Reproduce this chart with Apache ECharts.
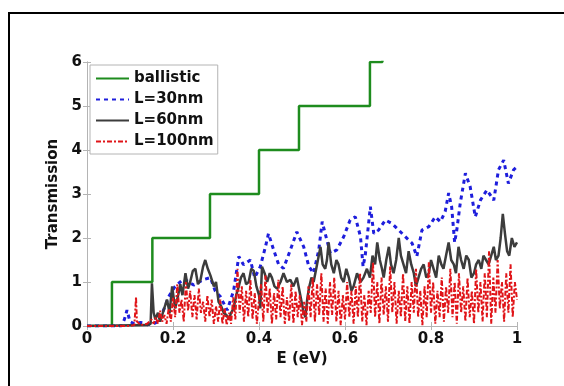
<!DOCTYPE html>
<html>
<head>
<meta charset="utf-8">
<script src="https://cdn.jsdelivr.net/npm/echarts@6/dist/echarts.min.js"></script>
<style>
  html, body { margin: 0; padding: 0; background: #fff; }
  #chart { width: 564px; height: 386px; }
</style>
</head>
<body>
<div id="chart"></div>
<script>
// ballistic transmission: integer steps at these energies
const ballisticEdges = [0, 0.058, 0.152, 0.286, 0.4, 0.493, 0.658, 0.687, 1.0]
const ballisticLevels = [0, 1, 2, 3, 4, 5, 6, 7, 7]

// L = 30nm  [E, T]
const l30 = [
	[0, 0], [0.08, 0], [0.087, 0.15], [0.093, 0.36], [0.1, 0.1], [0.11, 0.05], [0.125, 0.08], [0.14, 0.03],
	[0.155, 0.05], [0.165, 0.1], [0.178, 0.36], [0.19, 0.67], [0.205, 0.9], [0.225, 1.07], [0.248, 0.93],
	[0.27, 1.05], [0.287, 1.1], [0.298, 0.8], [0.31, 0.67], [0.326, 0.36], [0.341, 0.8], [0.353, 1.58],
	[0.364, 1.39], [0.38, 1.5], [0.39, 1.1], [0.403, 1.35], [0.415, 1.8], [0.422, 2.1], [0.434, 1.73],
	[0.446, 1.39], [0.457, 1.31], [0.473, 1.73], [0.488, 2.14], [0.504, 1.8], [0.516, 1.35], [0.527, 1.2],
	[0.539, 1.73], [0.547, 2.37], [0.554, 2.1], [0.566, 1.65], [0.581, 1.73], [0.597, 2.03], [0.612, 2.41],
	[0.624, 2.48], [0.636, 2.03], [0.642, 1.35], [0.647, 1.6], [0.659, 2.71], [0.667, 2.1], [0.678, 2.18],
	[0.694, 2.41], [0.709, 2.33], [0.725, 2.18], [0.74, 2.03], [0.756, 1.88], [0.767, 1.58], [0.779, 2.18],
	[0.795, 2.26], [0.81, 2.48], [0.822, 2.37], [0.833, 2.6], [0.841, 3.02], [0.848, 2.71], [0.855, 1.9],
	[0.86, 2.18], [0.868, 2.79], [0.88, 3.47], [0.891, 3.17], [0.903, 2.48], [0.915, 2.86], [0.93, 3.09],
	[0.946, 2.86], [0.957, 3.55], [0.969, 3.77], [0.98, 3.24], [0.992, 3.55], [1.0, 3.62]
]

// L = 60nm
const l60 = [
	[0, 0], [0.14, 0.02], [0.148, 0.05], [0.151, 0.97], [0.155, 0.3], [0.159, 0.15], [0.165, 0.3], [0.17, 0.1],
	[0.178, 0.35], [0.186, 0.6], [0.192, 0.3], [0.198, 0.9], [0.205, 0.4], [0.212, 0.7], [0.217, 0.95],
	[0.222, 0.7], [0.229, 1.2], [0.235, 0.85], [0.24, 1.0], [0.246, 1.25], [0.252, 1.3], [0.258, 0.95],
	[0.264, 1.05], [0.27, 1.35], [0.275, 1.5], [0.281, 1.3], [0.287, 1.15], [0.295, 0.9], [0.3, 1.0],
	[0.306, 0.55], [0.312, 0.45], [0.318, 0.3], [0.324, 0.25], [0.33, 0.15], [0.335, 0.3], [0.341, 0.4],
	[0.347, 0.7], [0.353, 0.9], [0.358, 1.1], [0.364, 1.2], [0.37, 0.95], [0.376, 1.0], [0.382, 1.3],
	[0.388, 1.25], [0.394, 0.9], [0.4, 0.7], [0.403, 0.4], [0.407, 1.35], [0.413, 1.2], [0.419, 1.0],
	[0.425, 1.2], [0.43, 1.1], [0.436, 0.9], [0.442, 0.85], [0.45, 1.0], [0.457, 1.2], [0.465, 1.0],
	[0.473, 1.05], [0.48, 0.9], [0.488, 1.1], [0.494, 0.8], [0.5, 0.5], [0.504, 0.3], [0.508, 0.2],
	[0.512, 0.6], [0.516, 0.85], [0.522, 1.1], [0.527, 1.0], [0.535, 1.4], [0.543, 1.8], [0.548, 1.4],
	[0.554, 1.3], [0.558, 1.5], [0.562, 1.9], [0.568, 1.4], [0.574, 1.2], [0.58, 1.5], [0.585, 1.4],
	[0.591, 1.1], [0.597, 1.0], [0.603, 1.3], [0.609, 1.1], [0.615, 0.8], [0.62, 0.9], [0.628, 1.2],
	[0.636, 1.0], [0.643, 1.1], [0.651, 1.3], [0.658, 1.1], [0.664, 1.6], [0.67, 1.4], [0.675, 1.9],
	[0.681, 1.5], [0.686, 1.3], [0.69, 1.1], [0.696, 1.5], [0.702, 1.8], [0.707, 1.4], [0.713, 1.2],
	[0.719, 1.5], [0.725, 2.0], [0.73, 1.6], [0.736, 1.4], [0.742, 1.2], [0.748, 1.7], [0.754, 1.4],
	[0.76, 1.2], [0.765, 0.9], [0.771, 1.1], [0.777, 1.3], [0.783, 1.4], [0.789, 1.1], [0.795, 1.2],
	[0.8, 1.5], [0.806, 1.3], [0.812, 1.1], [0.818, 1.6], [0.824, 1.4], [0.829, 1.3], [0.835, 1.6],
	[0.841, 1.9], [0.847, 1.5], [0.853, 1.4], [0.858, 1.2], [0.864, 1.8], [0.87, 1.5], [0.876, 1.3],
	[0.882, 1.6], [0.888, 1.5], [0.894, 1.1], [0.9, 1.2], [0.905, 1.4], [0.911, 1.5], [0.917, 1.3],
	[0.922, 1.6], [0.928, 1.5], [0.934, 1.4], [0.94, 1.6], [0.946, 1.8], [0.951, 1.5], [0.957, 1.6],
	[0.962, 2.0], [0.967, 2.55], [0.972, 2.1], [0.977, 1.7], [0.982, 1.6], [0.988, 2.0], [0.994, 1.8],
	[1.0, 1.9]
]

// L = 100nm
const l100 = [
	[0, 0], [0.1, 0], [0.11, 0.02], [0.112, 0.3], [0.114, 0.66], [0.116, 0.1], [0.125, 0.02], [0.14, 0.05],
	[0.15, 0.15], [0.155, 0.05], [0.16, 0.2], [0.165, 0.05], [0.17, 0.35], [0.175, 0.1], [0.18, 0.25],
	[0.185, 0.05], [0.19, 0.4], [0.195, 0.1], [0.2, 0.65], [0.205, 0.2], [0.21, 0.95], [0.215, 0.3],
	[0.22, 0.6], [0.225, 0.1], [0.23, 1.0], [0.235, 0.35], [0.24, 0.8], [0.245, 0.2], [0.25, 0.7],
	[0.255, 0.15], [0.26, 0.85], [0.265, 0.3], [0.27, 0.55], [0.275, 0.1], [0.28, 0.7], [0.285, 0.2],
	[0.29, 0.6], [0.295, 0.05], [0.3, 0.45], [0.305, 0.1], [0.31, 0.6], [0.315, 0.05], [0.32, 0.4],
	[0.325, 0.02], [0.33, 0.3], [0.335, 0.05], [0.34, 0.65], [0.345, 0.15], [0.35, 1.3], [0.355, 0.3],
	[0.36, 0.9], [0.365, 0.1], [0.37, 0.8], [0.375, 0.2], [0.38, 1.05], [0.385, 0.15], [0.39, 0.75],
	[0.395, 0.05], [0.4, 0.6], [0.405, 0.95], [0.41, 0.1], [0.415, 1.15], [0.42, 0.3], [0.425, 0.85],
	[0.43, 0.05], [0.435, 0.75], [0.44, 0.15], [0.445, 1.05], [0.45, 0.2], [0.455, 0.9], [0.46, 0.05],
	[0.465, 0.65], [0.47, 0.1], [0.475, 0.95], [0.48, 0.05], [0.485, 0.8], [0.49, 0.2], [0.495, 0.7],
	[0.5, 0.02], [0.505, 0.55], [0.51, 0.1], [0.515, 0.9], [0.52, 0.2], [0.525, 1.1], [0.53, 0.1],
	[0.535, 0.95], [0.54, 0.25], [0.545, 1.2], [0.55, 0.1], [0.555, 0.85], [0.56, 0.05], [0.565, 1.0],
	[0.57, 0.25], [0.575, 1.1], [0.58, 0.1], [0.585, 0.8], [0.59, 0.02], [0.595, 0.7], [0.6, 0.15],
	[0.605, 1.0], [0.61, 0.2], [0.615, 0.8], [0.62, 0.05], [0.625, 0.9], [0.63, 0.2], [0.635, 1.2],
	[0.64, 0.1], [0.645, 0.7], [0.65, 0.02], [0.655, 0.8], [0.66, 0.3], [0.665, 1.45], [0.67, 0.2],
	[0.675, 1.0], [0.68, 0.05], [0.685, 1.1], [0.69, 0.25], [0.695, 0.9], [0.7, 0.1], [0.705, 1.35],
	[0.71, 0.3], [0.715, 1.0], [0.72, 0.05], [0.725, 0.8], [0.73, 0.2], [0.735, 1.2], [0.74, 0.1],
	[0.745, 0.9], [0.75, 0.05], [0.755, 1.0], [0.76, 0.3], [0.765, 1.3], [0.77, 0.2], [0.775, 0.8],
	[0.78, 0.02], [0.785, 0.9], [0.79, 0.2], [0.795, 1.45], [0.8, 0.3], [0.805, 1.0], [0.81, 0.05],
	[0.815, 0.8], [0.82, 0.2], [0.825, 1.1], [0.83, 0.1], [0.835, 0.9], [0.84, 0.3], [0.845, 1.3],
	[0.85, 0.2], [0.855, 1.0], [0.86, 0.05], [0.865, 1.2], [0.87, 0.3], [0.875, 0.9], [0.88, 0.1],
	[0.885, 1.1], [0.89, 0.2], [0.895, 0.8], [0.9, 0.05], [0.905, 1.3], [0.91, 0.3], [0.915, 1.0],
	[0.92, 0.1], [0.925, 1.2], [0.93, 0.2], [0.935, 1.7], [0.94, 0.05], [0.945, 1.1], [0.95, 0.3],
	[0.955, 1.5], [0.96, 0.4], [0.965, 1.0], [0.97, 0.1], [0.975, 1.2], [0.98, 0.3], [0.985, 1.4],
	[0.99, 0.2], [0.995, 1.0], [1.0, 0.6]
]

const xTicks = [0, 0.2, 0.4, 0.6, 0.8, 1]
const yTicks = [0, 1, 2, 3, 4, 5, 6]

const chart = echarts.init(document.getElementById('chart'))

const font = 'DejaVu Sans'
const boxGray = '#b4b4b4'

const tickAxis = (extra) => ({
	type: 'value',
	axisLine: { show: true, lineStyle: { color: boxGray, width: 1 } },
	axisTick: { show: true, inside: true, length: 4, lineStyle: { color: boxGray } },
	splitLine: { show: false },
	...extra
})

const options = {
	animation: false,
	backgroundColor: '#ffffff',
	grid: { left: 87, top: 62, right: 47, bottom: 60 },
	xAxis: [
		tickAxis({
			min: xTicks[0],
			max: xTicks[xTicks.length - 1],
			interval: 0.2,
			name: 'E (eV)',
			nameLocation: 'middle',
			nameGap: 18,
			nameTextStyle: { fontFamily: font, fontWeight: 'bold', fontSize: 15, color: '#111' },
			axisLabel: { fontFamily: font, fontWeight: 'bold', fontSize: 15, color: '#111', margin: 6 }
		}),
		tickAxis({
			position: 'top',
			min: xTicks[0],
			max: xTicks[xTicks.length - 1],
			interval: 0.2,
			axisLabel: { show: false }
		})
	],
	yAxis: [
		tickAxis({
			min: yTicks[0],
			max: yTicks[yTicks.length - 1],
			interval: 1,
			name: 'Transmission',
			nameLocation: 'middle',
			nameGap: 26,
			nameTextStyle: { fontFamily: font, fontWeight: 'bold', fontSize: 15, color: '#111' },
			axisLabel: { fontFamily: font, fontWeight: 'bold', fontSize: 15, color: '#111', margin: 5 }
		}),
		tickAxis({
			position: 'right',
			min: yTicks[0],
			max: yTicks[yTicks.length - 1],
			interval: 1,
			axisLabel: { show: false }
		})
	],
	legend: {
		orient: 'vertical',
		left: 90,
		top: 65,
		padding: [6, 4, 5, 5],
		itemWidth: 33,
		itemHeight: 14,
		itemGap: 6,
		backgroundColor: '#fff',
		borderColor: '#b4b4b4',
		borderWidth: 1,
		itemStyle: { opacity: 0 },
		textStyle: { fontFamily: font, fontWeight: 'bold', fontSize: 15, color: '#111', padding: [0, 0, 0, 0] },
		data: ['ballistic', 'L=30nm', 'L=60nm', 'L=100nm']
	},
	graphic: [
		{
			type: 'polyline',
			shape: { points: [[9, 386], [9, 13], [564, 13]] },
			style: { stroke: '#000', lineWidth: 2, fill: null },
			silent: true
		}
	],
	series: [
		{
			name: 'ballistic',
			type: 'line',
			step: 'end',
			symbol: 'none',
			data: ballisticEdges.map((e, i) => [e, ballisticLevels[i]]),
			lineStyle: { color: '#1e8c1e', width: 2.5 },
			itemStyle: { color: '#1e8c1e' }
		},
		{
			name: 'L=30nm',
			type: 'line',
			symbol: 'none',
			data: l30,
			lineStyle: { color: '#1e1edc', width: 3, type: [4, 4] },
			itemStyle: { color: '#1e1edc' }
		},
		{
			name: 'L=60nm',
			type: 'line',
			symbol: 'none',
			data: l60,
			lineStyle: { color: '#3c3c3c', width: 2.5 },
			itemStyle: { color: '#3c3c3c' }
		},
		{
			name: 'L=100nm',
			type: 'line',
			symbol: 'none',
			data: l100,
			lineStyle: { color: '#e01418', width: 2, type: [5, 2, 2, 2] },
			itemStyle: { color: '#e01418' }
		}
	]
}

chart.setOption(options)
</script>
</body>
</html>
